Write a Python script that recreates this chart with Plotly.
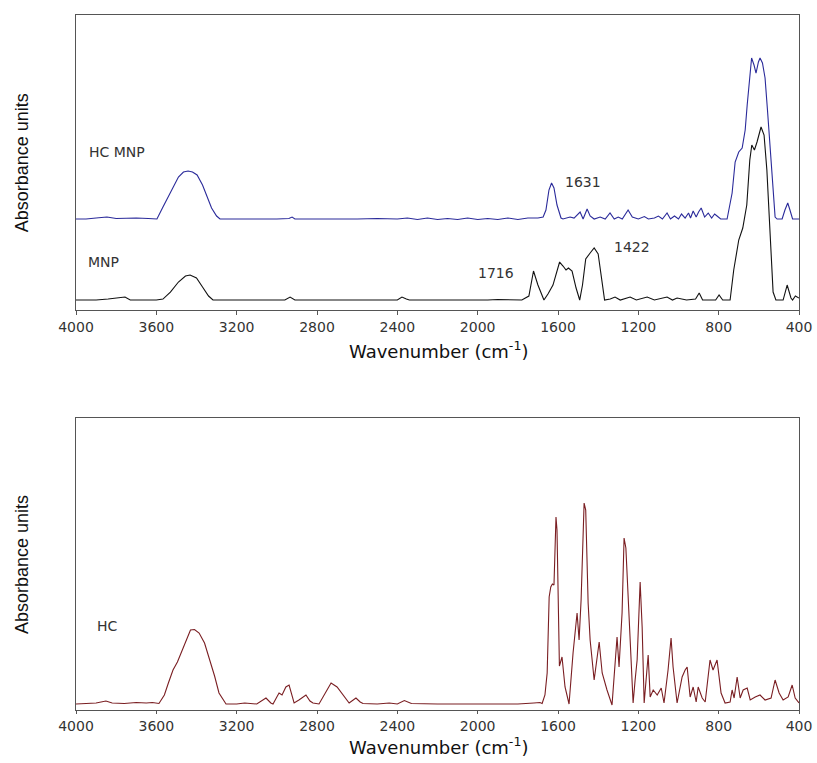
import plotly.graph_objects as go
from plotly.subplots import make_subplots

# ---------------- data ----------------
mnp_wn = [4000, 3900, 3840, 3756, 3730, 3600, 3567, 3530, 3490, 3455, 3432, 3400, 3370, 3340, 3318,
          3200, 2960, 2934, 2910, 2400, 2377, 2355, 2340, 1950, 1900, 1780, 1745, 1722, 1700, 1670,
          1650, 1625, 1605, 1592, 1575, 1560, 1548, 1530, 1510, 1492, 1478, 1462, 1440, 1420, 1400,
          1385, 1368, 1340, 1316, 1290, 1241, 1210, 1156, 1120, 1057, 1030, 1007, 960, 915, 897, 880,
          815, 798, 780, 743, 725, 700, 680, 660, 645, 635, 622, 609, 589, 574, 560, 546, 529, 515,
          479, 459, 440, 432, 418, 400]
mnp_abs = [0.10, 0.10, 0.11, 0.13, 0.10, 0.10, 0.11, 0.18, 0.28, 0.34, 0.35, 0.32, 0.23, 0.14, 0.10,
           0.10, 0.10, 0.13, 0.10, 0.10, 0.13, 0.11, 0.10, 0.10, 0.105, 0.10, 0.14, 0.39, 0.25, 0.10,
           0.16, 0.25, 0.38, 0.48, 0.44, 0.40, 0.42, 0.39, 0.22, 0.10, 0.25, 0.51, 0.57, 0.62, 0.56,
           0.35, 0.10, 0.11, 0.13, 0.10, 0.13, 0.10, 0.13, 0.10, 0.13, 0.10, 0.12, 0.10, 0.11, 0.17, 0.10,
           0.10, 0.15, 0.10, 0.10, 0.40, 0.70, 0.82, 1.05, 1.50, 1.65, 1.60, 1.68, 1.83, 1.75, 1.40, 0.85, 0.18, 0.10,
           0.10, 0.25, 0.12, 0.10, 0.14, 0.12]

hcmnp_wn = [4000, 3950, 3900, 3846, 3800, 3750, 3700, 3640, 3597, 3567, 3540, 3517, 3490, 3465, 3442,
            3420, 3397, 3370, 3348, 3325, 3300, 3283, 3000, 2940, 2924, 2910, 2600, 2500, 2400, 2350,
            2300, 2250, 2200, 2150, 2100, 2050, 2000, 1950, 1900, 1850, 1800, 1750, 1700, 1674, 1660,
            1645, 1632, 1620, 1605, 1585, 1575, 1540, 1520, 1490, 1475, 1455, 1440, 1420, 1390, 1365,
            1341, 1320, 1300, 1280, 1251, 1230, 1200, 1170, 1150, 1120, 1100, 1080, 1057, 1040, 1020,
            1000, 985, 967, 950, 940, 927, 912, 900, 887, 870, 852, 835, 820, 808, 790, 758, 733, 718,
            700, 683, 668, 658, 645, 636, 624, 614, 602, 594, 582, 569, 557, 544, 529, 519, 509, 484,
            470, 456, 445, 432, 415, 400]
hcmnp_abs = [0.91, 0.91, 0.92, 0.93, 0.915, 0.92, 0.92, 0.915, 0.91, 1.03, 1.14, 1.23, 1.33, 1.38, 1.39,
             1.38, 1.35, 1.25, 1.13, 1.02, 0.94, 0.91, 0.91, 0.915, 0.93, 0.91, 0.91, 0.915, 0.91, 0.92,
             0.905, 0.92, 0.905, 0.915, 0.905, 0.92, 0.905, 0.915, 0.905, 0.92, 0.905, 0.92, 0.92, 0.93, 1.00,
             1.20, 1.27, 1.22, 1.05, 0.92, 0.91, 0.93, 0.92, 0.98, 0.91, 1.01, 0.94, 0.91, 0.93, 0.91,
             0.97, 0.91, 0.93, 0.91, 1.00, 0.93, 0.91, 0.935, 0.91, 0.92, 0.94, 0.91, 0.97, 0.91, 0.94,
             0.91, 0.96, 0.92, 0.97, 0.92, 0.99, 0.93, 0.98, 1.02, 0.93, 0.97, 0.92, 0.96, 0.94, 0.91, 0.91, 1.17, 1.48,
             1.58, 1.62, 1.80, 2.05, 2.35, 2.52, 2.45, 2.37, 2.48, 2.52, 2.47, 2.32, 2.00, 1.63, 1.22, 0.93, 0.91, 0.91,
             1.00, 1.07, 1.00, 0.91, 0.91, 0.91]

hc_wn = [4000, 3950, 3900, 3851, 3820, 3760, 3700, 3650, 3620, 3587, 3560, 3540, 3517, 3495, 3475,
         3450, 3430, 3410, 3387, 3360, 3338, 3310, 3288, 3253, 3200, 3160, 3100, 3054, 3030, 3019,
         3000, 2989, 2974, 2955, 2939, 2925, 2914, 2890, 2855, 2835, 2820, 2790, 2760, 2730, 2700,
         2670, 2640, 2606, 2585, 2571, 2500, 2440, 2400, 2365, 2330, 2200, 2000, 1800, 1720, 1690,
         1679, 1665, 1654, 1644, 1636, 1628, 1620, 1610, 1605, 1598, 1593, 1580, 1565, 1545, 1525,
         1505, 1495, 1485, 1470, 1462, 1450, 1440, 1420, 1395, 1380, 1356, 1331, 1306, 1296, 1281,
         1271, 1262, 1241, 1226, 1216, 1206, 1191, 1181, 1171, 1151, 1141, 1126, 1106, 1086, 1072,
         1052, 1037, 1027, 1007, 982, 967, 957, 942, 927, 912, 902, 882, 867, 843, 828, 808, 788,
         768, 743, 733, 723, 708, 693, 678, 658, 643, 618, 594, 569, 539, 519, 499, 479, 454, 434,
         419, 404, 400]
hc_abs = [0.06, 0.065, 0.07, 0.09, 0.07, 0.065, 0.075, 0.07, 0.075, 0.065, 0.15, 0.27, 0.40, 0.48, 0.58,
          0.72, 0.80, 0.805, 0.77, 0.67, 0.53, 0.34, 0.17, 0.06, 0.06, 0.07, 0.06, 0.12, 0.07, 0.06,
          0.13, 0.17, 0.15, 0.23, 0.25, 0.15, 0.07, 0.10, 0.15, 0.09, 0.07, 0.06, 0.17, 0.27, 0.23,
          0.15, 0.07, 0.12, 0.08, 0.065, 0.06, 0.07, 0.06, 0.095, 0.065, 0.06, 0.06, 0.06, 0.07, 0.075,
          0.065, 0.15, 0.37, 1.13, 1.23, 1.26, 1.25, 1.93, 1.80, 1.10, 0.44, 0.53, 0.23, 0.06, 0.57,
          0.97, 0.70, 1.10, 2.07, 2.00, 1.07, 0.70, 0.30, 0.68, 0.37, 0.20, 0.05, 0.73, 0.43, 0.97,
          1.72, 1.62, 0.70, 0.07, 0.30, 0.50, 1.28, 0.83, 0.07, 0.55, 0.13, 0.20, 0.15, 0.22, 0.07,
          0.40, 0.72, 0.43, 0.07, 0.33, 0.40, 0.43, 0.13, 0.23, 0.08, 0.23, 0.12, 0.08, 0.50, 0.40, 0.50, 0.17,
          0.07, 0.08, 0.20, 0.12, 0.33, 0.12, 0.20, 0.22, 0.10, 0.13, 0.15, 0.10, 0.12, 0.30, 0.17, 0.10, 0.13, 0.25,
          0.12, 0.08, 0.07]

x_ticks = [4000, 3600, 3200, 2800, 2400, 2000, 1600, 1200, 800, 400]

# ---------------- figure ----------------
fig = make_subplots(rows=2, cols=1)

fig.add_trace(go.Scatter(x=hcmnp_wn, y=hcmnp_abs, mode="lines", name="HC MNP",
                         line=dict(color="#2a2a9a", width=1.1)), row=1, col=1)
fig.add_trace(go.Scatter(x=mnp_wn, y=mnp_abs, mode="lines", name="MNP",
                         line=dict(color="#111111", width=1.1)), row=1, col=1)
fig.add_trace(go.Scatter(x=hc_wn, y=hc_abs, mode="lines", name="HC",
                         line=dict(color="#7a1e22", width=1.1)), row=2, col=1)

tick_font = dict(family="DejaVu Sans", size=14, color="#333333")
xcommon = dict(range=[4000, 400], tickvals=x_ticks, ticktext=[str(v) for v in x_ticks],
               showline=True, linecolor="#555555", linewidth=1.2, mirror=True,
               ticks="outside", tickcolor="#555555", showgrid=False, automargin=False,
               zeroline=False, tickfont=tick_font)
ycommon = dict(showline=True, linecolor="#555555", linewidth=1.2, mirror=True, automargin=False,
               showticklabels=False, ticks="", showgrid=False, zeroline=False)

fig.update_layout(
    width=817, height=763, autosize=False,
    margin=dict(l=76, r=18, t=15, b=53, autoexpand=False),
    paper_bgcolor="white", plot_bgcolor="white",
    showlegend=False,
    xaxis=dict(domain=[0, 1], anchor="y", ticklen=4, **xcommon),
    yaxis=dict(domain=[0.5755, 1.0], range=[0, 2.95], anchor="x", **ycommon),
    xaxis2=dict(domain=[0, 1], anchor="y2", ticklen=3, **xcommon),
    yaxis2=dict(domain=[0.0, 0.4201], range=[0, 2.92], anchor="x2", **ycommon),
)

lab_font = dict(family="DejaVu Sans", size=14, color="#333333")
notes = [
    ("HC MNP", 3945, 1.58, "x", "y"),
    ("MNP", 3950, 0.48, "x", "y"),
    ("1631", 1575, 1.28, "x", "y"),
    ("1422", 1331, 0.63, "x", "y"),
    ("1716", 2008, 0.37, "x", "y"),
    ("HC", 3905, 0.84, "x2", "y2"),
]
for txt, xv, yv, xr, yr in notes:
    fig.add_annotation(text=txt, x=xv, y=yv, xref=xr, yref=yr, xanchor="left",
                       yanchor="middle", showarrow=False, font=lab_font)

title_font = dict(family="DejaVu Sans", size=18, color="#111111")
for yp in [0.518, -0.0525]:
    fig.add_annotation(text="Wavenumber (cm<sup>-1</sup>)", x=0.5007, y=yp, xref="paper",
                       yref="paper", xanchor="center", yanchor="middle", showarrow=False,
                       font=title_font)

ytitle_font = dict(family="Liberation Sans Narrow, Arial Narrow, Liberation Sans", size=18,
                   color="#111111")
for yp in [0.788, 0.210]:
    fig.add_annotation(text="Absorbance units", x=-0.0747, y=yp, xref="paper", yref="paper",
                       xanchor="center", yanchor="middle", textangle=-90, showarrow=False,
                       font=ytitle_font)

fig.write_html("out.html", config={"displayModeBar": False},
               post_script="document.body.style.margin='0px';document.body.style.overflow='hidden';")
